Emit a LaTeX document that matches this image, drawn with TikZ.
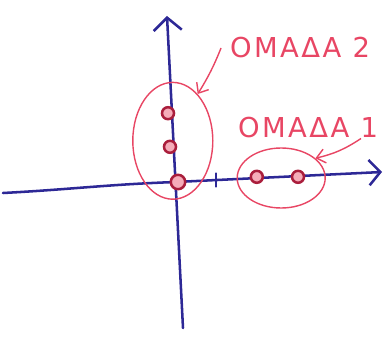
\documentclass[tikz,border=0pt]{standalone}
\usepackage{fontspec}
\setmainfont{DejaVu Sans}
\usetikzlibrary{positioning, arrows.meta, shapes.geometric}
\definecolor{penblue}{RGB}{45,40,150}
\definecolor{penred}{RGB}{232,70,100}
\definecolor{dotred}{RGB}{170,30,60}

\begin{document}
\begin{tikzpicture}[
  axis/.style={draw=penblue, line width=1.8pt, line cap=round},
  grp/.style={draw=penred, ellipse, line width=1pt, inner sep=0pt},
  pt/.style={circle, draw=dotred, fill=penred!45, line width=1.8pt, minimum size=0.3cm, inner sep=0pt},
  lab/.style={text=penred, font=\fontsize{19.5}{22}\selectfont\addfontfeature{LetterSpace=9}},
  arr/.style={draw=penred, line width=1pt, -{Straight Barb[length=6pt, width=10pt]}}]
\useasboundingbox (0,0) rectangle (9.75,8.45);
% axes
\coordinate (xl) at (0.075,3.625);
\coordinate (xr) at (9.55,4.15);
\coordinate (yb) at (4.575,0.25);
\coordinate (yt) at (4.175,8.05);
\draw[axis, -{Straight Barb[length=8pt, width=18pt]}] (xl) to[out=3, in=182] (4.4,3.9) -- (xr);
\draw[axis, -{Straight Barb[length=9pt, width=20pt]}] (yb) -- (yt);
\coordinate (tk) at (5.4,3.95);
\draw[axis, line width=1.2pt] ([yshift=-0.17cm]tk) -- ([yshift=0.17cm]tk);
% groups
\node[grp, minimum width=2.0cm, minimum height=2.92cm] (g2) at (4.32,4.93) {};
\node[grp, minimum width=2.2cm, minimum height=1.5cm] (g1) at (7.03,4.0) {};
\node[pt] (p1) at (4.2,5.62) {};
\node[pt] (p2) at (4.25,4.78) {};
\node[pt, minimum size=0.36cm] (p3) at (4.45,3.9) {};
\node[pt] (q1) at (6.42,4.03) {};
\node[pt] (q2) at (7.45,4.03) {};
% labels
\node[lab] (lab2) at (7.5,7.25) {ΟΜΑΔΑ 2};
\node[lab] (lab1) at (7.7,5.27) {ΟΜΑΔΑ 1};
\draw[arr] ([xshift=-0.1cm]lab2.west) to[bend left=5] (g2.62);
\draw[arr] ([xshift=-0.55cm, yshift=0.1cm]lab1.south east) to[bend left=10] (g1.30);
\end{tikzpicture}
\end{document}
